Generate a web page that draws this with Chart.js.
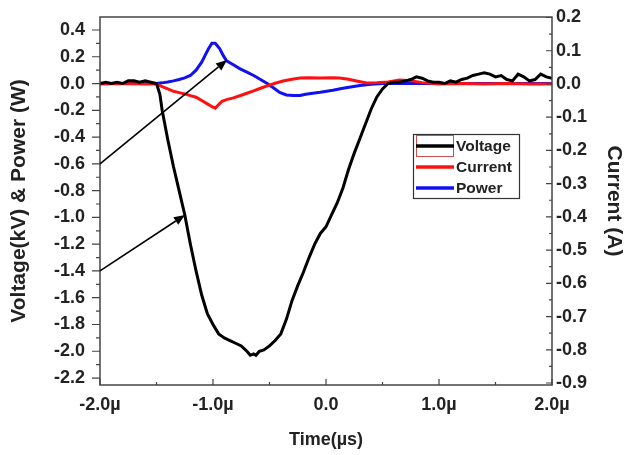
<!DOCTYPE html>
<html><head><meta charset="utf-8">
<script src="https://cdn.jsdelivr.net/npm/chart.js@4.4.0/dist/chart.umd.min.js"></script>
<style>html,body{margin:0;padding:0;background:#fff}#wrap{width:628px;height:455px}</style>
</head><body><div id="wrap"><canvas id="c" width="628" height="455"></canvas></div>
<script>
// ---- data (time in µs) ----
const voltageTime = [-2.00,-1.95,-1.90,-1.85,-1.80,-1.75,-1.70,-1.65,-1.60,-1.55,-1.50,-1.47,-1.45,-1.40,-1.35,-1.30,-1.25,-1.20,-1.15,-1.10,-1.05,-1.00,-0.95,-0.90,-0.85,-0.80,-0.75,-0.70,-0.67,-0.64,-0.62,-0.59,-0.55,-0.50,-0.45,-0.40,-0.35,-0.30,-0.25,-0.20,-0.15,-0.10,-0.05,0.00,0.05,0.10,0.15,0.20,0.25,0.30,0.35,0.40,0.45,0.50,0.55,0.60,0.65,0.70,0.75,0.80,0.85,0.90,0.95,1.00,1.05,1.10,1.15,1.20,1.25,1.30,1.35,1.40,1.45,1.50,1.55,1.60,1.65,1.70,1.75,1.80,1.85,1.90,1.95,2.00];
const voltageValues = [0.00,0.01,0.00,0.01,0.00,0.02,0.02,0.01,0.02,0.01,0.00,-0.08,-0.20,-0.42,-0.62,-0.80,-0.98,-1.20,-1.40,-1.58,-1.72,-1.80,-1.87,-1.90,-1.92,-1.94,-1.96,-2.00,-2.03,-2.02,-2.03,-2.00,-1.99,-1.96,-1.92,-1.87,-1.76,-1.62,-1.51,-1.41,-1.30,-1.20,-1.12,-1.07,-0.98,-0.89,-0.78,-0.64,-0.52,-0.41,-0.30,-0.19,-0.10,-0.04,0.00,0.01,0.01,0.02,0.03,0.05,0.04,0.02,0.01,0.01,0.00,0.02,0.01,0.03,0.04,0.06,0.07,0.08,0.07,0.05,0.06,0.03,0.02,0.07,0.05,0.02,0.03,0.07,0.05,0.04];

const currentTime = [-2.00,-1.80,-1.60,-1.50,-1.45,-1.40,-1.35,-1.30,-1.25,-1.20,-1.15,-1.10,-1.05,-1.00,-0.98,-0.95,-0.92,-0.88,-0.82,-0.75,-0.70,-0.64,-0.58,-0.52,-0.45,-0.38,-0.30,-0.23,-0.15,-0.05,0.05,0.12,0.20,0.27,0.36,0.45,0.55,0.65,0.75,0.85,1.00,1.20,1.40,1.60,1.80,2.00];
const currentValues = [0.000,0.001,0.000,0.000,-0.008,-0.015,-0.022,-0.026,-0.030,-0.035,-0.040,-0.050,-0.060,-0.070,-0.073,-0.062,-0.052,-0.047,-0.042,-0.034,-0.028,-0.021,-0.013,-0.006,0.002,0.009,0.014,0.018,0.019,0.018,0.019,0.018,0.014,0.009,0.003,0.004,0.006,0.012,0.010,0.004,0.000,0.001,0.000,0.001,0.000,0.000];

const powerTime = [-2.00,-1.80,-1.60,-1.50,-1.45,-1.40,-1.35,-1.30,-1.25,-1.20,-1.15,-1.10,-1.07,-1.04,-1.01,-0.98,-0.96,-0.94,-0.91,-0.88,-0.82,-0.76,-0.70,-0.64,-0.58,-0.52,-0.46,-0.41,-0.35,-0.29,-0.23,-0.18,-0.10,-0.05,0.06,0.15,0.30,0.40,0.50,0.80,1.20,1.60,2.00];
const powerValues = [0.000,0.000,0.000,0.000,0.005,0.012,0.020,0.030,0.042,0.060,0.100,0.160,0.210,0.260,0.300,0.300,0.280,0.260,0.210,0.170,0.140,0.110,0.085,0.060,0.030,0.000,-0.035,-0.067,-0.085,-0.090,-0.090,-0.080,-0.070,-0.065,-0.050,-0.035,-0.015,-0.005,0.000,0.000,0.000,0.000,0.000];

const seriesLabels = ['Voltage','Current','Power'];
const seriesColors = ['#000000','#ff1010','#1010f0'];

const xTickLabels = {'-2':'-2.0\u00b5','-1':'-1.0\u00b5','0':'0.0','1':'1.0\u00b5','2':'2.0\u00b5'};

// annotation arrows: start/end points in data units (left axis)
const arrowStarts = [[-2.0,-0.6],[-2.0,-1.4]];
const arrowEnds = [[-0.876,0.176],[-1.248,-0.982]];

const FONT = "'Liberation Sans', Arial, sans-serif";
const toXY = (ts, vs) => ts.map((t,i)=>({x:t,y:vs[i]}));

const framePlugin = {
  id:'frame',
  afterDatasetsDraw(chart){
    const {ctx, chartArea:a, scales} = chart;
    ctx.save();
    ctx.strokeStyle='#444'; ctx.lineWidth=1.5;
    ctx.strokeRect(a.left, a.top, a.right-a.left, a.bottom-a.top);
    ctx.lineWidth=1.2;
    const y = scales.y;
    ctx.beginPath();
    y.ticks.forEach((t,i)=>{
      const v=t.value;
      const p=y.getPixelForValue(v);
      ctx.moveTo(a.left-8,p); ctx.lineTo(a.left,p);
      const m=v+0.1;
      if(m<y.max){const q=y.getPixelForValue(m);ctx.moveTo(a.left-4,q);ctx.lineTo(a.left,q);}
      if(i===0 && v-0.1>y.min){const q=y.getPixelForValue(v-0.1);ctx.moveTo(a.left-4,q);ctx.lineTo(a.left,q);}
    });
    const y1 = scales.y1;
    y1.ticks.forEach((t,i)=>{
      const v=t.value;
      const p=y1.getPixelForValue(v);
      ctx.moveTo(a.right-6,p); ctx.lineTo(a.right,p);
      const m=v+0.05;
      if(m<y1.max){const q=y1.getPixelForValue(m);ctx.moveTo(a.right-3,q);ctx.lineTo(a.right,q);}
      if(i===0 && v-0.05>y1.min){const q=y1.getPixelForValue(v-0.05);ctx.moveTo(a.right-3,q);ctx.lineTo(a.right,q);}
    });
    const x = scales.x;
    x.ticks.forEach(t=>{
      const v=t.value;
      const p=x.getPixelForValue(v);
      ctx.moveTo(p,a.bottom); ctx.lineTo(p,a.bottom-6);
      const m=v+0.5;
      if(m<x.max){const q=x.getPixelForValue(m);ctx.moveTo(q,a.bottom);ctx.lineTo(q,a.bottom-3);}
    });
    ctx.stroke();

    // arrows
    ctx.strokeStyle='#000'; ctx.fillStyle='#000'; ctx.lineWidth=1.6;
    arrowStarts.forEach((s,i)=>{
      const e=arrowEnds[i];
      const x0=x.getPixelForValue(s[0]), y0=y.getPixelForValue(s[1]);
      const x1=x.getPixelForValue(e[0]), y1p=y.getPixelForValue(e[1]);
      const ang=Math.atan2(y1p-y0,x1-x0);
      const L=11, W=4.5;
      const bx=x1-L*Math.cos(ang), by=y1p-L*Math.sin(ang);
      ctx.beginPath(); ctx.moveTo(x0,y0); ctx.lineTo(bx,by); ctx.stroke();
      ctx.beginPath();
      ctx.moveTo(x1,y1p);
      ctx.lineTo(bx+W*Math.sin(ang), by-W*Math.cos(ang));
      ctx.lineTo(bx-W*Math.sin(ang), by+W*Math.cos(ang));
      ctx.closePath(); ctx.fill();
    });

    // legend
    const lx=413, ly=134, lw=106, lh=64;
    ctx.fillStyle='#fff'; ctx.fillRect(lx,ly,lw,lh);
    ctx.strokeStyle='#333'; ctx.lineWidth=1.2; ctx.strokeRect(lx+0.5,ly+0.5,lw,lh);
    ctx.font='bold 15.5px '+FONT; ctx.textBaseline='middle'; ctx.textAlign='left';
    chart.data.datasets.forEach((ds,i)=>{
      const yy=ly+12+i*21;
      if(i===0){ctx.strokeStyle='#d05050';ctx.lineWidth=1;ctx.strokeRect(416.5,ly+1.5,37,21);}
      ctx.strokeStyle=ds.borderColor; ctx.lineWidth=3.5;
      ctx.beginPath(); ctx.moveTo(416,yy); ctx.lineTo(454,yy); ctx.stroke();
      ctx.fillStyle='#222'; ctx.fillText(ds.label,456,yy+1);
    });
    ctx.restore();
  }
};

new Chart(document.getElementById('c'),{
  type:'line',
  data:{datasets:[
    {label:seriesLabels[0],data:toXY(voltageTime,voltageValues),borderColor:seriesColors[0],yAxisID:'y'},
    {label:seriesLabels[1],data:toXY(currentTime,currentValues),borderColor:seriesColors[1],yAxisID:'y1'},
    {label:seriesLabels[2],data:toXY(powerTime,powerValues),borderColor:seriesColors[2],yAxisID:'y'}
  ]},
  options:{
    responsive:false, animation:false, parsing:true,
    layout:{padding:{top:17,left:0,right:0,bottom:0}},
    elements:{point:{radius:0},line:{borderWidth:3,tension:0}},
    plugins:{legend:{display:false},tooltip:{enabled:false}},
    scales:{
      x:{type:'linear',min:-2,max:2,
        ticks:{stepSize:1,includeBounds:false,autoSkip:false,maxRotation:0,padding:9,color:'#222',font:{family:FONT,size:18,weight:'bold'},
          callback:v=>xTickLabels[String(Math.round(v))]},
        grid:{display:false,drawTicks:false},border:{display:false},
        title:{display:true,text:'Time(\u00b5s)',color:'#222',font:{family:FONT,size:18,weight:'bold'},padding:{top:0,bottom:4}},
        afterFit(s){s.height=70;s.paddingLeft=0;s.paddingRight=0;}
      },
      y:{type:'linear',position:'left',min:-2.252,max:0.497,
        ticks:{stepSize:0.2,includeBounds:false,autoSkip:false,padding:15,color:'#222',font:{family:FONT,size:18,weight:'bold'},
          callback:v=>(Math.abs(v)<1e-9?0:v).toFixed(1)},
        grid:{display:false,drawTicks:false},border:{display:false},
        title:{display:true,text:'Voltage(kV) & Power (W)',color:'#222',font:{family:FONT,size:21,weight:'bold'},padding:{top:7,bottom:0}},
        afterFit(s){s.width=100;s.paddingTop=0;s.paddingBottom=0;}
      },
      y1:{type:'linear',position:'right',min:-0.906,max:0.2015,
        ticks:{stepSize:0.1,includeBounds:false,autoSkip:false,padding:4,color:'#222',font:{family:FONT,size:18,weight:'bold'},
          callback:v=>(Math.abs(v)<1e-9?0:v).toFixed(1)},
        grid:{display:false,drawTicks:false},border:{display:false},
        title:{display:true,text:'Current (A)',color:'#222',font:{family:FONT,size:21,weight:'bold'},padding:{top:2,bottom:0}},
        afterFit(s){s.width=76;s.paddingTop=0;s.paddingBottom=0;}
      }
    }
  },
  plugins:[framePlugin]
});
</script></body></html>
